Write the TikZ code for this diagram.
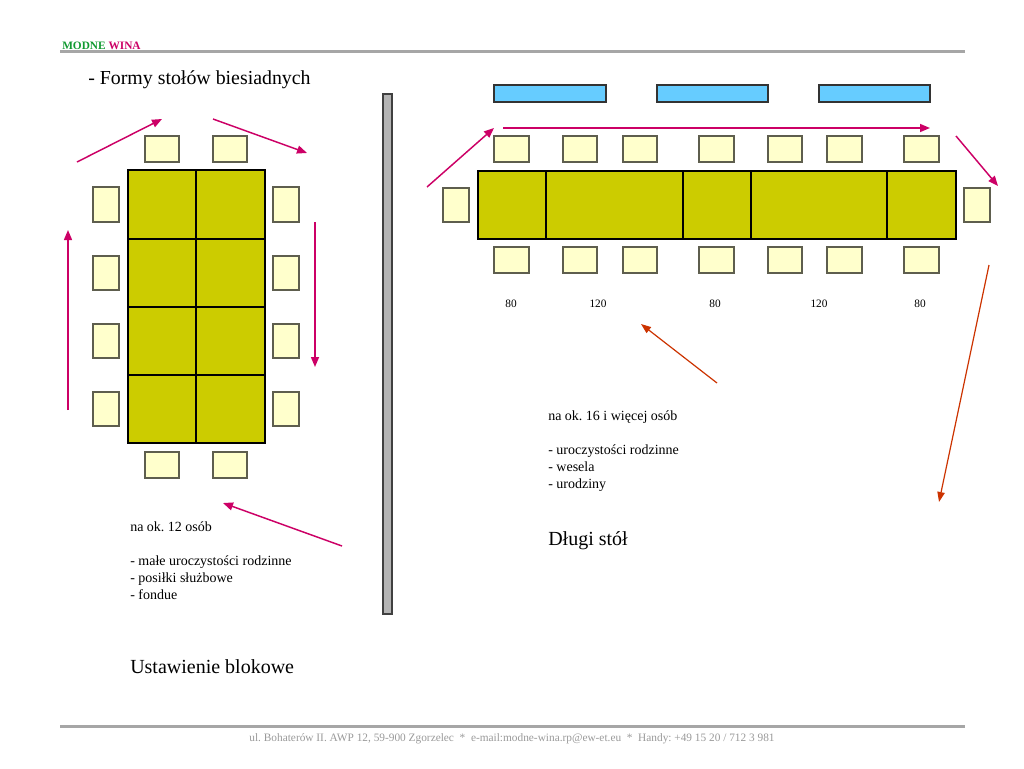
\documentclass[tikz,border=0pt]{standalone}
\usepackage{fontspec}
\setmainfont{Liberation Serif}
\frenchspacing
\usetikzlibrary{arrows.meta}
\definecolor{olivetab}{HTML}{CCCC00}
\definecolor{chairfill}{HTML}{FFFFCC}
\definecolor{chairedge}{HTML}{5E5E4E}
\definecolor{plateblue}{HTML}{66CCFF}
\definecolor{wine}{HTML}{CC0066}
\definecolor{brick}{HTML}{CC3300}
\definecolor{leafgreen}{HTML}{109A30}
\definecolor{rulegray}{HTML}{A6A6A6}
\definecolor{bargray}{HTML}{B4B4B4}
\definecolor{footgray}{HTML}{9A9A9A}

\begin{document}
\begin{tikzpicture}[x=0.75pt,y=-0.75pt,
  chair/.style={fill=chairfill,draw=chairedge,line width=0.9pt},
  tablepart/.style={fill=olivetab,draw=black,line width=0.8pt},
  plate/.style={fill=plateblue,draw=black!80,line width=0.8pt},
  flow/.style={draw=wine,line width=1.1pt,-{Triangle[length=7.5pt,width=6pt]}},
  hint/.style={draw=brick,line width=0.9pt,-{Triangle[length=7.5pt,width=5.5pt]}},
  txt/.style={anchor=base west,inner sep=0pt,font=\fontsize{10.5}{12.75}\selectfont\frenchspacing,align=left},
  big/.style={anchor=base west,inner sep=0pt,font=\fontsize{15}{17}\selectfont},
  sizelabel/.style={anchor=base,inner sep=0pt,font=\fontsize{8.5}{10}\selectfont}]
\useasboundingbox[fill=white] (0,0) rectangle (1024,768);
\draw[rulegray,line width=2.25pt] (60,51)--(965,51);
\draw[rulegray,line width=2.25pt] (60,726)--(965,726);
\node[anchor=base west,inner sep=0pt,font=\fontsize{8.5}{10}\selectfont\bfseries] (brand) at (62,49.5) {\textcolor{leafgreen}{MODNE} \textcolor{wine}{WINA}};
\node[big,font=\fontsize{14.9}{17}\selectfont] (title) at (88,84.5) {- Formy stołów biesiadnych};
\node[anchor=base,inner sep=0pt,font=\fontsize{8.5}{10}\selectfont\frenchspacing,text=footgray] (footer) at (512,741.5) {ul. Bohaterów II. AWP 12, 59-900 Zgorzelec \ * \ e-mail:modne-wina.rp@ew-et.eu \ * \ Handy: +49 15 20 / 712 3 981};
\fill[bargray,draw=black!75,line width=0.8pt] (383,94) rectangle (392,614);
\draw[tablepart] (128,170) rectangle (265,443);
\draw[line width=0.8pt] (196,170)--(196,443);
\draw[line width=0.8pt] (128,239)--(265,239);
\draw[line width=0.8pt] (128,307)--(265,307);
\draw[line width=0.8pt] (128,375)--(265,375);
\draw[chair] (145,136) rectangle (179,162);
\draw[chair] (213,136) rectangle (247,162);
\draw[chair] (145,452) rectangle (179,478);
\draw[chair] (213,452) rectangle (247,478);
\draw[chair] (93,187) rectangle (119,222);
\draw[chair] (93,256) rectangle (119,290);
\draw[chair] (93,324) rectangle (119,358);
\draw[chair] (93,392) rectangle (119,426);
\draw[chair] (273,187) rectangle (299,222);
\draw[chair] (273,256) rectangle (299,290);
\draw[chair] (273,324) rectangle (299,358);
\draw[chair] (273,392) rectangle (299,426);
\draw[flow] (68,410)--(68,230);
\draw[flow] (77,162)--(162,119);
\draw[flow] (213,119)--(307,153);
\draw[flow] (315,222)--(315,367);
\draw[flow] (342,546)--(223,503);
\node[txt] (small) at (130,531) {na ok. 12 osób};
\node[txt] (smalluse) at (130,599) {- małe uroczystości rodzinne\\- posiłki służbowe\\- fondue};
\node[big] (block) at (130,673) {Ustawienie blokowe};
\draw[plate] (494,85) rectangle (606,102);
\draw[plate] (657,85) rectangle (768,102);
\draw[plate] (819,85) rectangle (930,102);
\draw[tablepart] (478,171) rectangle (956,239);
\draw[line width=0.8pt] (546,171)--(546,239);
\draw[line width=0.8pt] (683,171)--(683,239);
\draw[line width=0.8pt] (751,171)--(751,239);
\draw[line width=0.8pt] (887,171)--(887,239);
\draw[chair] (494,136) rectangle (529,162);
\draw[chair] (563,136) rectangle (597,162);
\draw[chair] (623,136) rectangle (657,162);
\draw[chair] (699,136) rectangle (734,162);
\draw[chair] (768,136) rectangle (802,162);
\draw[chair] (827,136) rectangle (862,162);
\draw[chair] (904,136) rectangle (939,162);
\draw[chair] (494,247) rectangle (529,273);
\draw[chair] (563,247) rectangle (597,273);
\draw[chair] (623,247) rectangle (657,273);
\draw[chair] (699,247) rectangle (734,273);
\draw[chair] (768,247) rectangle (802,273);
\draw[chair] (827,247) rectangle (862,273);
\draw[chair] (904,247) rectangle (939,273);
\draw[chair] (443,188) rectangle (469,222);
\draw[chair] (964,188) rectangle (990,222);
\node[sizelabel] (w1) at (511,307) {80};
\node[sizelabel] (w2) at (598,307) {120};
\node[sizelabel] (w3) at (715,307) {80};
\node[sizelabel] (w4) at (819,307) {120};
\node[sizelabel] (w5) at (920,307) {80};
\draw[flow] (427,187)--(494,128);
\draw[flow] (503,128)--(930,128);
\draw[flow] (956,136)--(998,186);
\draw[hint] (989,265)--(939,502);
\draw[hint] (717,383)--(641,324);
\node[txt] (large) at (548,420) {na ok. 16 i więcej osób};
\node[txt] (largeuse) at (548,488) {- uroczystości rodzinne\\- wesela\\- urodziny};
\node[big] (long) at (548,545) {Długi stół};
\end{tikzpicture}
\end{document}
